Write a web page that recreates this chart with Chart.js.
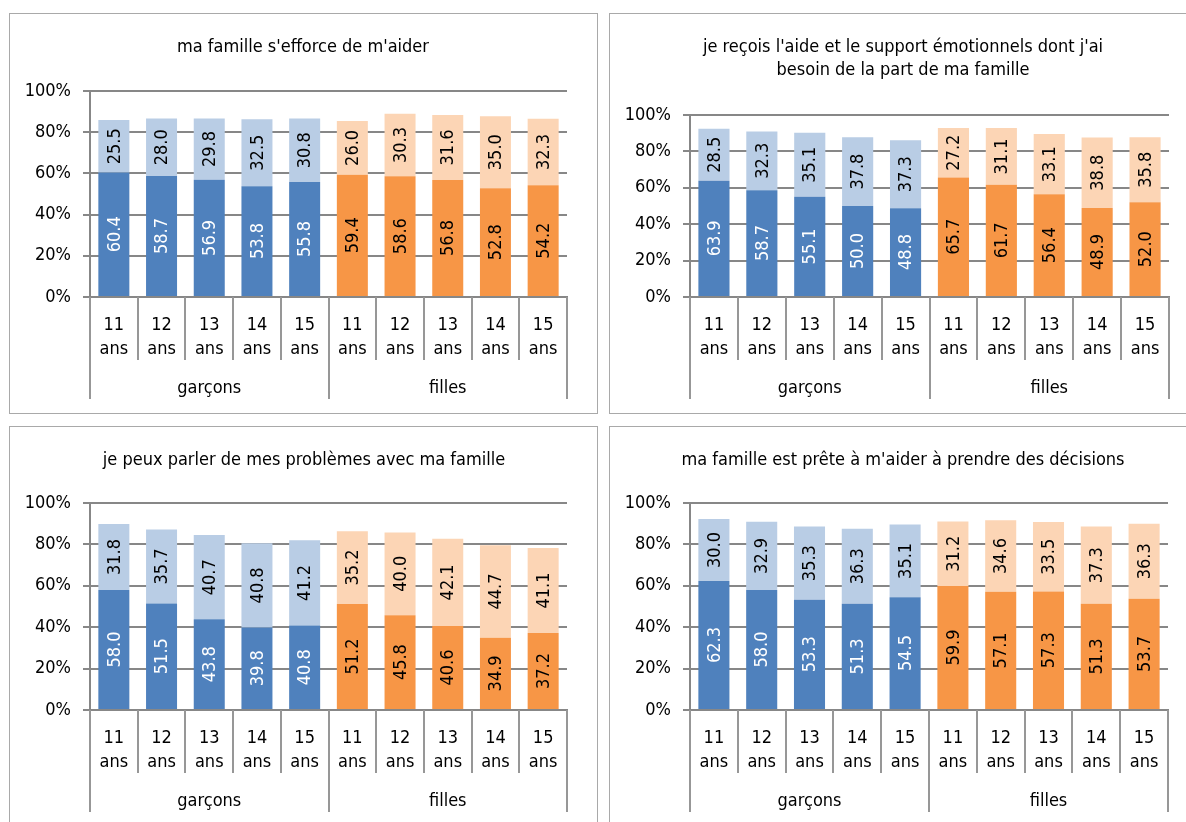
<!DOCTYPE html>
<html lang="fr">
  <head>
    <meta charset="UTF-8" />
    <title>Soutien familial</title>
    <script src="https://cdn.jsdelivr.net/npm/chart.js"></script>
    <style>
      body {
        margin: 0;
        background: #fff;
        width: 1186px;
        height: 822px;
        overflow: hidden;
        position: relative;
      }
      .cadre {
        position: absolute;
        box-sizing: border-box;
        border: 1px solid #a9a9a9;
        background: #fff;
      }
      .cadre div {
        position: absolute;
        left: 0;
        top: 0;
      }
    </style>
  </head>
  <body>
    <div class="cadre" style="left: 9px; top: 13px; width: 589px; height: 401px">
      <div style="width: 587px; height: 398px"><canvas id="graphique1"></canvas></div>
    </div>
    <div class="cadre" style="left: 609px; top: 13px; width: 600px; height: 401px">
      <div style="width: 570px; height: 398px"><canvas id="graphique2"></canvas></div>
    </div>
    <div class="cadre" style="left: 9px; top: 426px; width: 589px; height: 420px">
      <div style="width: 587px; height: 398px"><canvas id="graphique3"></canvas></div>
    </div>
    <div class="cadre" style="left: 609px; top: 426px; width: 600px; height: 420px">
      <div style="width: 570px; height: 398px"><canvas id="graphique4"></canvas></div>
    </div>

    <script>
      const ages = [["11", "ans"], ["12", "ans"], ["13", "ans"], ["14", "ans"], ["15", "ans"],
                    ["11", "ans"], ["12", "ans"], ["13", "ans"], ["14", "ans"], ["15", "ans"]];
      const groupes = ["garçons", "filles"];
      const ticksY = [0, 20, 40, 60, 80, 100];

      // "tout à fait d'accord" (foncé) et "d'accord" (clair)
      const effortFonce = [60.4, 58.7, 56.9, 53.8, 55.8, 59.4, 58.6, 56.8, 52.8, 54.2];
      const effortClair = [25.5, 28.0, 29.8, 32.5, 30.8, 26.0, 30.3, 31.6, 35.0, 32.3];

      const supportFonce = [63.9, 58.7, 55.1, 50.0, 48.8, 65.7, 61.7, 56.4, 48.9, 52.0];
      const supportClair = [28.5, 32.3, 35.1, 37.8, 37.3, 27.2, 31.1, 33.1, 38.8, 35.8];

      const parlerFonce = [58.0, 51.5, 43.8, 39.8, 40.8, 51.2, 45.8, 40.6, 34.9, 37.2];
      const parlerClair = [31.8, 35.7, 40.7, 40.8, 41.2, 35.2, 40.0, 42.1, 44.7, 41.1];

      const decisionsFonce = [62.3, 58.0, 53.3, 51.3, 54.5, 59.9, 57.1, 57.3, 51.3, 53.7];
      const decisionsClair = [30.0, 32.9, 35.3, 36.3, 35.1, 31.2, 34.6, 33.5, 37.3, 36.3];

      const police = "'Liberation Sans Narrow', 'Arial Narrow', 'DejaVu Sans Condensed', sans-serif";
      const gris = "#878787";

      function couleurs(garcon, fille) {
        return ages.map((a, i) => (i < 5 ? garcon : fille));
      }

      // titre centré sur tout le cadre (pas seulement sur la zone du graphique)
      const titreCadre = {
        id: "titreCadre",
        afterDraw(chart, args, opts) {
          const ctx = chart.ctx;
          const lignes = [].concat(opts.texte);
          ctx.save();
          ctx.fillStyle = "#000000";
          ctx.font = "18px " + police;
          ctx.textAlign = "center";
          ctx.textBaseline = "middle";
          lignes.forEach((ligne, i) => {
            ctx.fillText(ligne, opts.centre, 33 + i * 23);
          });
          ctx.restore();
        },
      };

      // valeurs écrites verticalement au milieu de chaque segment
      const etiquettes = {
        id: "etiquettes",
        afterDatasetsDraw(chart) {
          const ctx = chart.ctx;
          ctx.save();
          ctx.font = "18px " + police;
          ctx.textAlign = "center";
          ctx.textBaseline = "middle";
          chart.data.datasets.forEach((ds, d) => {
            chart.getDatasetMeta(d).data.forEach((barre, i) => {
              const milieu = (barre.y + barre.base) / 2;
              ctx.save();
              ctx.translate(barre.x, milieu);
              ctx.rotate(-Math.PI / 2);
              ctx.fillStyle = d == 0 && i < 5 ? "#ffffff" : "#000000";
              ctx.fillText(ds.data[i].toFixed(1), 0, 1);
              ctx.restore();
            });
          });
          ctx.restore();
        },
      };

      // séparateurs de l'axe des x et noms des groupes
      const axeGroupes = {
        id: "axeGroupes",
        afterDraw(chart) {
          const ctx = chart.ctx;
          const x = chart.scales.x;
          const n = chart.data.labels.length;
          const largeur = (x.right - x.left) / n;
          const base = chart.chartArea.bottom;
          ctx.save();
          ctx.strokeStyle = "#979797";
          ctx.lineWidth = 2;
          for (let k = 0; k <= n; k++) {
            const px = Math.round(x.left + k * largeur);
            const longue = k % 5 == 0;
            ctx.beginPath();
            ctx.moveTo(px, base);
            ctx.lineTo(px, base + (longue ? 102 : 63));
            ctx.stroke();
          }
          ctx.fillStyle = "#000000";
          ctx.font = "18px " + police;
          ctx.textAlign = "center";
          ctx.textBaseline = "middle";
          groupes.forEach((g, j) => {
            const centre = x.left + (j * 5 + 2.5) * largeur;
            ctx.fillText(g, centre, base + 91);
          });
          ctx.restore();
        },
      };

      function creerGraphique(idCanvas, titre, fonce, clair, haut, centreTitre, margeDroite) {
        const data = {
          labels: ages,
          datasets: [
            {
              label: "foncé",
              data: fonce,
              backgroundColor: couleurs("#4F81BD", "#F79646"),
              barPercentage: 0.65,
              categoryPercentage: 1,
            },
            {
              label: "clair",
              data: clair,
              backgroundColor: couleurs("#B9CDE5", "#FCD5B5"),
              barPercentage: 0.65,
              categoryPercentage: 1,
            },
          ],
        };

        const config = {
          type: "bar",
          data: data,
          options: {
            responsive: true,
            maintainAspectRatio: false,
            animation: false,
            layout: {
              padding: { top: haut, right: margeDroite, bottom: 0, left: 0 },
            },
            scales: {
              x: {
                stacked: true,
                grid: { display: false, drawTicks: false },
                border: { display: true, color: gris, width: 2 },
                ticks: {
                  color: "#000000",
                  font: { family: police, size: 18, lineHeight: 1.33 },
                  padding: 16,
                  maxRotation: 0,
                  autoSkip: false,
                },
                afterFit: (scale) => {
                  scale.height = 115;
                },
              },
              y: {
                stacked: true,
                min: 0,
                max: 100,
                afterBuildTicks: (scale) => {
                  scale.ticks = ticksY.map((v) => ({ value: v }));
                },
                grid: { color: gris, lineWidth: 2, tickLength: 7 },
                border: { color: gris, width: 2 },
                ticks: {
                  color: "#000000",
                  font: { family: police, size: 18 },
                  padding: 12,
                  callback: (v) => v + "%",
                },
                afterFit: (scale) => {
                  scale.width = 80;
                },
              },
            },
            plugins: {
              legend: { display: false },
              tooltip: { enabled: false },
              title: { display: false },
              titreCadre: { texte: titre, centre: centreTitre },
            },
          },
          plugins: [titreCadre, etiquettes, axeGroupes],
        };

        return new Chart(document.getElementById(idCanvas), config);
      }

      creerGraphique("graphique1", "ma famille s'efforce de m'aider", effortFonce, effortClair, 77, 293, 30);
      creerGraphique(
        "graphique2",
        ["je reçois l'aide et le support émotionnels dont j'ai", "besoin de la part de ma famille"],
        supportFonce,
        supportClair,
        101,
        293,
        11
      );
      creerGraphique("graphique3", "je peux parler de mes problèmes avec ma famille", parlerFonce, parlerClair, 76, 294, 30);
      creerGraphique("graphique4", "ma famille est prête à m'aider à prendre des décisions", decisionsFonce, decisionsClair, 76, 293, 12);
    </script>
  </body>
</html>
